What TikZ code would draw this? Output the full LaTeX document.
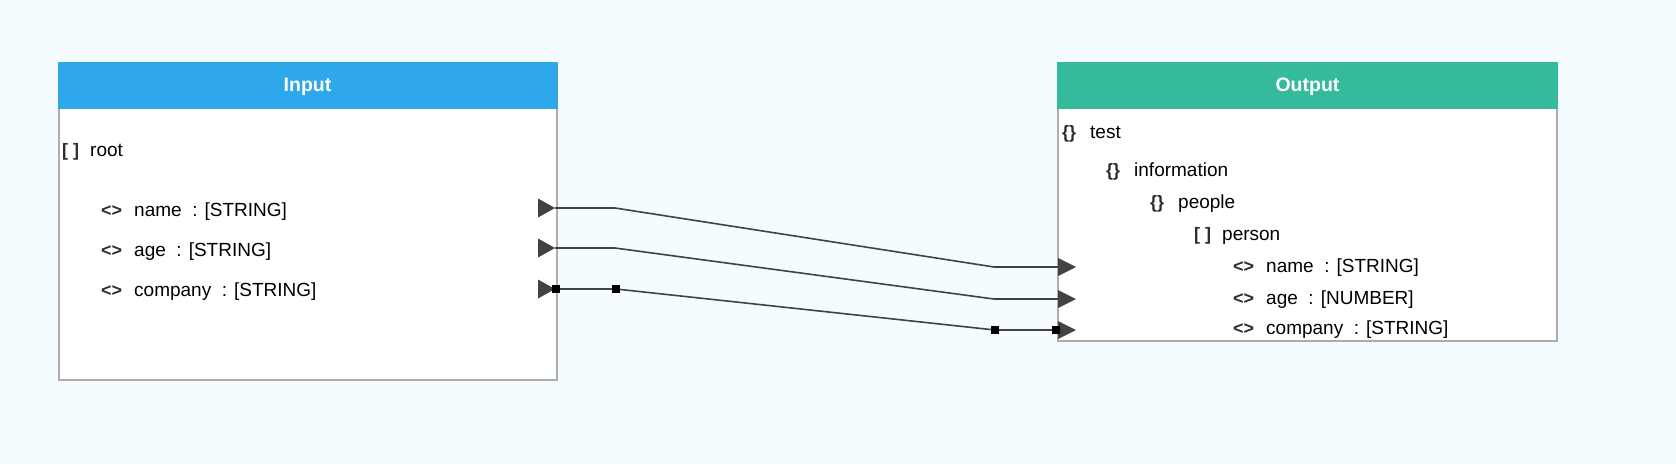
\documentclass[tikz,border=0pt]{standalone}
\usepackage{fontspec}
\setmainfont{Liberation Sans}
\usetikzlibrary{calc}
\definecolor{bg}{RGB}{244,252,255}
\definecolor{inhead}{RGB}{46,168,234}
\definecolor{outhead}{RGB}{53,186,155}
\definecolor{frame}{RGB}{172,172,172}
\definecolor{wire}{RGB}{66,66,66}
\definecolor{icon}{RGB}{45,45,45}
\begin{document}
\begin{tikzpicture}[x=1pt,y=-1pt,
  txt/.style={anchor=base west, inner sep=0pt, font=\fontsize{19}{22}\selectfont, text=black},
  ico/.style={anchor=base west, inner sep=0pt, font=\fontsize{18}{22}\selectfont\bfseries, text=icon},
  title/.style={anchor=base, inner sep=0pt, font=\fontsize{19.5}{22}\selectfont\bfseries, text=white},
  body/.style={draw=frame, line width=2pt, fill=white},
  conn/.style={draw=wire, line width=1.6pt},
  sq/.style={fill=black, minimum size=8pt, inner sep=0pt},
  tri/.style={fill=wire}
]
\useasboundingbox (0,0) rectangle (1676,464);
\fill[bg] (0,0) rectangle (1676,464);

% ---------- Input box ----------
\draw[body] (59,80) rectangle (557,380);
\fill[inhead] (58,62) rectangle (558,109);
\node[title] (intitle) at (307.5,91.5) {Input};
\node[ico] (iroot) at (62,156.5) {[ ]};
\node[txt] (troot) at (90,156.5) {root};
\node[ico] (iname) at (101,216.5) {<>};
\node[txt] (tname) at (134,216.5) {name~~: [STRING]};
\node[ico] (iage) at (101,256.5) {<>};
\node[txt] (tage) at (134,256.5) {age~~: [STRING]};
\node[ico] (icomp) at (101,296.5) {<>};
\node[txt] (tcomp) at (134,296.5) {company~~: [STRING]};

% input ports
\coordinate (pin-name) at (555,208);
\coordinate (pin-age) at (555,248);
\coordinate (pin-comp) at (555,289);
\foreach \p in {pin-name,pin-age,pin-comp}
  \fill[tri] ($(\p)+(-17,-9.5)$) -- (\p) -- ($(\p)+(-17,9.5)$) -- cycle;

% ---------- Output box ----------
\draw[body] (1058,80) rectangle (1557,341);
\fill[outhead] (1057,62) rectangle (1558,109);
\node[title] (outtitle) at (1307.5,91.5) {Output};
\node[ico] (otest) at (1062,138) {\{\}};
\node[txt] (ttest) at (1090,138) {test};
\node[ico] (oinfo) at (1106,176.5) {\{\}};
\node[txt] (tinfo) at (1134,176.5) {information};
\node[ico] (opeop) at (1150,208) {\{\}};
\node[txt] (tpeop) at (1178,208) {people};
\node[ico] (opers) at (1194,240) {[ ]};
\node[txt] (tpers) at (1222,240) {person};
\node[ico] (oname) at (1233,272) {<>};
\node[txt] (toname) at (1266,272) {name~~: [STRING]};
\node[ico] (oage) at (1233,304) {<>};
\node[txt] (toage) at (1266,304) {age~~: [NUMBER]};
\node[ico] (ocomp) at (1233,334) {<>};
\node[txt] (tocomp) at (1266,334) {company~~: [STRING]};

% output ports
\coordinate (pout-name) at (1058,267);
\coordinate (pout-age) at (1058,299);
\coordinate (pout-comp) at (1058,330);
\foreach \p in {pout-name,pout-age,pout-comp}
  \fill[tri] ($(\p)+(0,-9)$) -- ($(\p)+(18,0)$) -- ($(\p)+(0,9)$) -- cycle;

% ---------- connectors ----------
\coordinate (ka-name) at (615,208);
\coordinate (kb-name) at (994,267);
\coordinate (ka-age) at (615,248);
\coordinate (kb-age) at (994,299);
\coordinate (ka-comp) at (616,289);
\coordinate (kb-comp) at (995,330);
\draw[conn] (pin-name) -- (ka-name) -- (kb-name) -- (pout-name);
\draw[conn] (pin-age) -- (ka-age) -- (kb-age) -- (pout-age);
\draw[conn] (pin-comp) -- (ka-comp) -- (kb-comp) -- (pout-comp);
\node[sq] (s1) at (556,289) {};
\node[sq] (s2) at (ka-comp) {};
\node[sq] (s3) at (kb-comp) {};
\node[sq] (s4) at (1056,330) {};
\end{tikzpicture}
\end{document}
